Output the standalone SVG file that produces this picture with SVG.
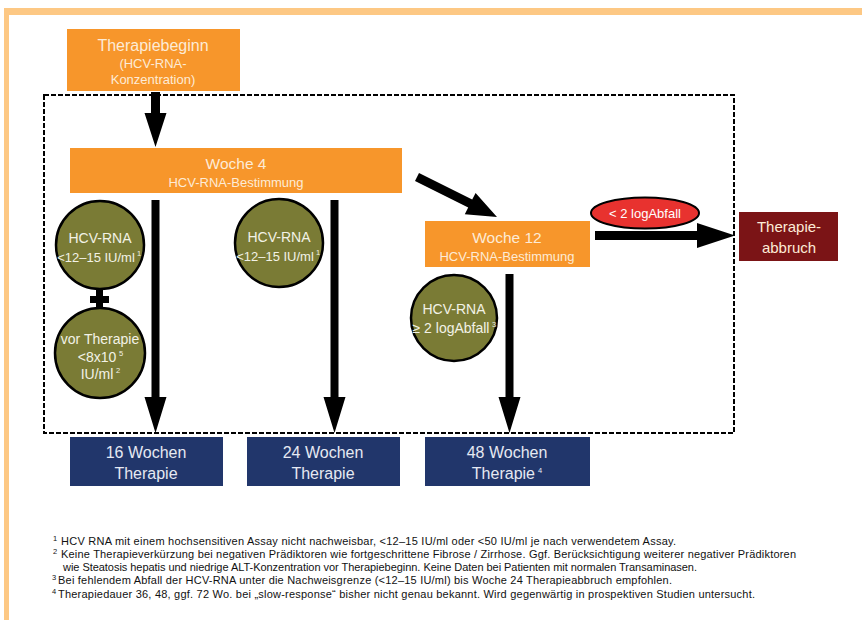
<svg xmlns="http://www.w3.org/2000/svg" width="862" height="620" viewBox="0 0 862 620">
<style>
text{font-family:"Liberation Sans","DejaVu Sans",sans-serif;}
.box-o{fill:#f7962b;}
.box-b{fill:#21366b;}
.box-r{fill:#7b1416;}
.circ{fill:#7a7b35;stroke:#000;stroke-width:2.5;}
.t-o{fill:#fdebd6;text-anchor:middle;}
.t-c{fill:#f2f2e6;text-anchor:middle;font-size:14px;}
.t-c2{fill:#f2f2e6;text-anchor:middle;font-size:13px;}
.t-s{fill:#f2f2e6;font-size:7.5px;}
.t-b{fill:#e6e9f2;text-anchor:middle;font-size:16px;}
.arrow{fill:#000;}
.fn{fill:#111;font-size:11px;}
.sup{font-size:7.5px;}
</style>
<rect width="862" height="620" fill="#fff"/>
<g id="frame">
<rect x="4" y="8" width="858" height="7" fill="#fdc884"/>
<rect x="4" y="8" width="5" height="612" fill="#fdc884"/>
<rect x="44" y="95" width="690" height="338" fill="none" stroke="#000" stroke-width="2" stroke-dasharray="5 2"/>
</g>
<g id="connectors">
<polygon class="arrow" points="151,92 160,92 160,113 166.5,113 155.5,147 144.5,113 151,113"/>
<polygon class="arrow" points="419,173 472.2,199.6 475.6,192.9 497,217 464.8,214.3 468.2,207.6 415,181"/>
<polygon class="arrow" points="151.5,200 159.5,200 159.5,397 166.5,397 155.5,433 144.5,397 151.5,397"/>
<polygon class="arrow" points="330.5,200 338.5,200 338.5,397 345.5,397 334.5,433 323.5,397 330.5,397"/>
<polygon class="arrow" points="505.5,274 513.5,274 513.5,397 520.5,397 509.5,433 498.5,397 505.5,397"/>
<polygon class="arrow" points="595,231 697,231 697,223 735,235.5 697,248 697,240 595,240"/>
<rect x="96" y="290" width="7" height="18" fill="#000"/>
<rect x="90" y="296" width="19" height="7" fill="#000"/>
</g>
<g id="start">
<rect class="box-o" x="67" y="29" width="173" height="62"/>
<text class="t-o" x="153" y="51" font-size="16">Therapiebeginn</text>
<text class="t-o" x="153" y="68" font-size="13">(HCV-RNA-</text>
<text class="t-o" x="153" y="84" font-size="13">Konzentration)</text>
</g>
<g id="woche4">
<rect class="box-o" x="70" y="148" width="332" height="45"/>
<text class="t-o" x="236" y="169" font-size="15.5">Woche 4</text>
<text class="t-o" x="236" y="187" font-size="13">HCV-RNA-Bestimmung</text>
</g>
<g id="woche12">
<rect class="box-o" x="425" y="221" width="165" height="46"/>
<text class="t-o" x="507" y="243" font-size="15.5">Woche 12</text>
<text class="t-o" x="507" y="261" font-size="13">HCV-RNA-Bestimmung</text>
</g>
<g id="abfall">
<ellipse cx="645" cy="213" rx="54" ry="15.5" fill="#e8322f" stroke="#000" stroke-width="2"/>
<text x="645" y="218" fill="#fff" text-anchor="middle" font-size="13">&lt; 2 logAbfall</text>
</g>
<g id="abbruch">
<rect class="box-r" x="739" y="212" width="99" height="49"/>
<text class="t-o" x="789" y="232" font-size="15" fill="#f0e4e4">Therapie-</text>
<text class="t-o" x="789" y="253" font-size="15" fill="#f0e4e4">abbruch</text>
</g>
<g id="c1">
<circle class="circ" cx="100" cy="245" r="44"/>
<text class="t-c" x="100" y="243">HCV-RNA</text>
<text class="t-c2" x="96" y="262">&lt;12–15 IU/ml</text>
<text class="t-s" x="137" y="256">1</text>
</g>
<g id="c2">
<circle class="circ" cx="100" cy="353" r="45"/>
<text class="t-c" x="100" y="344">vor Therapie</text>
<text class="t-c" x="97" y="362">&lt;8x10</text>
<text class="t-s" x="119" y="356">5</text>
<text class="t-c" x="97" y="379">IU/ml</text>
<text class="t-s" x="116" y="373">2</text>
</g>
<g id="c3">
<circle class="circ" cx="279" cy="243" r="44"/>
<text class="t-c" x="279" y="242">HCV-RNA</text>
<text class="t-c2" x="275" y="261">&lt;12–15 IU/ml</text>
<text class="t-s" x="316" y="255">1</text>
</g>
<g id="c4">
<circle class="circ" cx="454" cy="318" r="43"/>
<text class="t-c" x="454" y="314">HCV-RNA</text>
<text class="t-c" x="451" y="333">≥ 2 logAbfall</text>
<text class="t-s" x="492" y="327">3</text>
</g>
<g id="w16">
<rect class="box-b" x="70" y="437" width="153" height="49"/>
<text class="t-b" x="146" y="458">16 Wochen</text>
<text class="t-b" x="146" y="479">Therapie</text>
</g>
<g id="w24">
<rect class="box-b" x="247" y="437" width="153" height="49"/>
<text class="t-b" x="323" y="458">24 Wochen</text>
<text class="t-b" x="323" y="479">Therapie</text>
</g>
<g id="w48">
<rect class="box-b" x="425" y="437" width="165" height="49"/>
<text class="t-b" x="507" y="458">48 Wochen</text>
<text class="t-b" x="507" y="479">Therapie<tspan class="sup" dx="3" dy="-6" font-size="9">4</tspan></text>
</g>
<g id="footnotes">
<text class="fn sup" x="53" y="541">1</text>
<text class="fn" x="61" y="545" textLength="615">HCV RNA mit einem hochsensitiven Assay nicht nachweisbar,  &lt;12–15 IU/ml oder &lt;50 IU/ml je nach verwendetem Assay.</text>
<text class="fn sup" x="53" y="554">2</text>
<text class="fn" x="61" y="558" textLength="735">Keine Therapieverkürzung bei negativen Prädiktoren wie fortgeschrittene Fibrose / Zirrhose. Ggf. Berücksichtigung weiterer negativer Prädiktoren</text>
<text class="fn" x="63" y="571" textLength="634">wie Steatosis hepatis und niedrige ALT-Konzentration vor Therapiebeginn. Keine Daten bei Patienten mit normalen Transaminasen.</text>
<text class="fn sup" x="52" y="580">3</text>
<text class="fn" x="58" y="584" textLength="614">Bei fehlendem Abfall der HCV-RNA unter die Nachweisgrenze (&lt;12–15 IU/ml) bis Woche 24 Therapieabbruch empfohlen.</text>
<text class="fn sup" x="52" y="594">4</text>
<text class="fn" x="58" y="598" textLength="697">Therapiedauer 36, 48, ggf. 72 Wo. bei „slow-response“ bisher nicht genau bekannt. Wird gegenwärtig in prospektiven Studien untersucht.</text>
</g>
</svg>
